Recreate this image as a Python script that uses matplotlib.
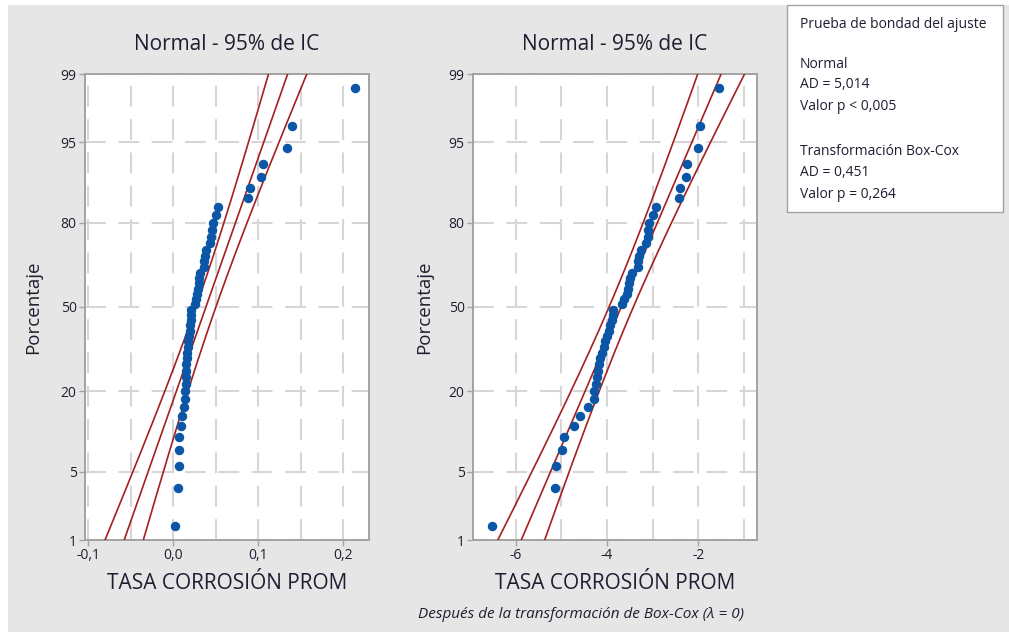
import numpy as np
import matplotlib
matplotlib.use("Agg")
import matplotlib.pyplot as plt
from matplotlib.patches import Rectangle
from matplotlib.ticker import FuncFormatter, NullLocator
from statistics import NormalDist

plt.rcParams['font.family'] = ['Open Sans', 'DejaVu Sans']

# Average corrosion rate measurements (48 specimens)
corrosion_rate = np.array([
    0.00147, 0.00592, 0.00601, 0.00680, 0.00710, 0.00884, 0.01008, 0.01201,
    0.01369, 0.01388, 0.01441, 0.01473, 0.01494, 0.01527, 0.01583, 0.01654,
    0.01703, 0.01767, 0.01819, 0.01900, 0.01971, 0.02029, 0.02074, 0.02080,
    0.02522, 0.02676, 0.02816, 0.02879, 0.02984, 0.03050, 0.03141, 0.03579,
    0.03600, 0.03715, 0.03851, 0.04294, 0.04456, 0.04519, 0.04620, 0.05000,
    0.05300, 0.08750, 0.09050, 0.10300, 0.10500, 0.13300, 0.14000, 0.21400,
])
box_cox_lambda = 0
confidence = 0.95

prob_ticks = [1, 5, 20, 50, 80, 95, 99]
raw_xticks = [-0.1, 0.0, 0.1, 0.2]
raw_xgrid = [-0.05, 0.05, 0.15]
log_xticks = [-6, -4, -2]
log_xgrid = [-5, -3, -1]

panel_title = "Normal - 95% de IC"
x_label = "TASA CORROSIÓN PROM"
y_label = "Porcentaje"
caption = "Después de la transformación de Box-Cox (λ = 0)"
gof_title = "Prueba de bondad del ajuste"
gof_normal = ["Normal", "AD = 5,014", "Valor p < 0,005"]
gof_boxcox = ["Transformación Box-Cox", "AD = 0,451", "Valor p = 0,264"]

W, H = 1009, 632
BG = '#e6e6e6'
TXT = '#1e1e30'
RED = '#a3201f'
BLUE = '#0b56a6'
GRID = '#d6d6d6'
SPINE = '#a3a3a3'

nd = NormalDist()
_ppf = np.vectorize(nd.inv_cdf, otypes=[float])
_cdf = np.vectorize(nd.cdf, otypes=[float])


def pct_to_z(p):
    p = np.clip(np.asarray(p, dtype=float) / 100.0, 1e-9, 1 - 1e-9)
    return _ppf(p)


def z_to_pct(z):
    return _cdf(np.asarray(z, dtype=float)) * 100.0


def comma_fmt(decimals):
    def f(v, pos):
        s = f"{v:.{decimals}f}".replace('.', ',')
        if s.startswith('-') and float(v) == 0:
            s = s[1:]
        return s
    return FuncFormatter(f)


def prob_panel(ax, values, xlim, major, minor, decimals, ylab_x):
    x = np.sort(values)
    n = len(x)
    ranks = np.arange(1, n + 1)
    pct = (ranks - 0.3) / (n + 0.4) * 100.0
    mu, sd = x.mean(), x.std(ddof=1)
    zz = np.linspace(-3.2, 3.2, 300)
    fit = mu + zz * sd
    se = sd * np.sqrt(1.0 / n + zz ** 2 / (2.0 * n))
    zc = nd.inv_cdf(0.5 + confidence / 2)
    pp = z_to_pct(zz)

    ax.set_yscale('function', functions=(pct_to_z, z_to_pct))
    ax.set_facecolor('white')
    for line in (fit - zc * se, fit, fit + zc * se):
        ax.plot(line, pp, color=RED, lw=1.2, zorder=3)
    ax.plot(x, pct, 'o', color=BLUE, ms=5.8, mec=BLUE, zorder=4)

    ax.set_xlim(*xlim)
    ax.set_ylim(1, 99)
    ax.set_xticks(major)
    ax.set_xticks(minor, minor=True)
    ax.xaxis.set_major_formatter(comma_fmt(decimals))
    ax.set_yticks(prob_ticks)
    ax.set_yticklabels([str(t) for t in prob_ticks])
    ax.yaxis.set_minor_locator(NullLocator())

    ax.grid(True, which='both', axis='x', color=GRID, lw=1.5,
            linestyle=(0, (10, 6)), zorder=0)
    ax.grid(True, which='major', axis='y', color=GRID, lw=1.5,
            linestyle=(0, (10, 6)), zorder=0)
    ax.set_axisbelow(True)

    ax.tick_params(axis='both', which='major', direction='out', length=4,
                   width=1, color=SPINE, labelsize=10, labelcolor=TXT, pad=2)
    ax.tick_params(axis='x', which='minor', length=0)
    for s in ax.spines.values():
        s.set_color(SPINE)
        s.set_linewidth(1.4)

    ax.set_title(panel_title, fontsize=15, color=TXT, pad=17)
    ax.set_xlabel(x_label, fontsize=15, color=TXT, labelpad=7)
    ax.set_ylabel(y_label, fontsize=13.5, color=TXT)
    ax.yaxis.set_label_coords(ylab_x, 0.5)


fig = plt.figure(figsize=(W / 100, H / 100), dpi=100, facecolor='white')
fig.add_artist(Rectangle((8 / W, 0), 1 - 8 / W, 1 - 5 / H,
                         transform=fig.transFigure, fc=BG, ec='none', zorder=-10))

ax_raw = fig.add_axes([85 / W, 1 - 540 / H, 284 / W, 466 / H])
ax_log = fig.add_axes([473 / W, 1 - 540 / H, 284 / W, 466 / H])

prob_panel(ax_raw, corrosion_rate, (-0.104, 0.230), raw_xticks, raw_xgrid, 1, -0.150)
prob_panel(ax_log, np.log(corrosion_rate), (-6.93, -0.72), log_xticks, log_xgrid, 0, -0.140)

fig.text(581 / W, 1 - 615 / H, caption, fontsize=11, style='italic',
         color=TXT, ha='center', va='center')

# goodness-of-fit summary box
fig.add_artist(Rectangle((787 / W, 1 - 212 / H), (1003 - 787) / W, (212 - 5) / H,
                         transform=fig.transFigure, fc='white', ec=SPINE, lw=1))
lines = [(gof_title, 25)] + list(zip(gof_normal, [64, 85, 106])) + \
        list(zip(gof_boxcox, [152, 173, 194]))
for txt, ypix in lines:
    fig.text(800 / W, 1 - ypix / H, txt, fontsize=10, color=TXT,
             ha='left', va='center')

fig.savefig('out.png', dpi=100, facecolor=fig.get_facecolor())
